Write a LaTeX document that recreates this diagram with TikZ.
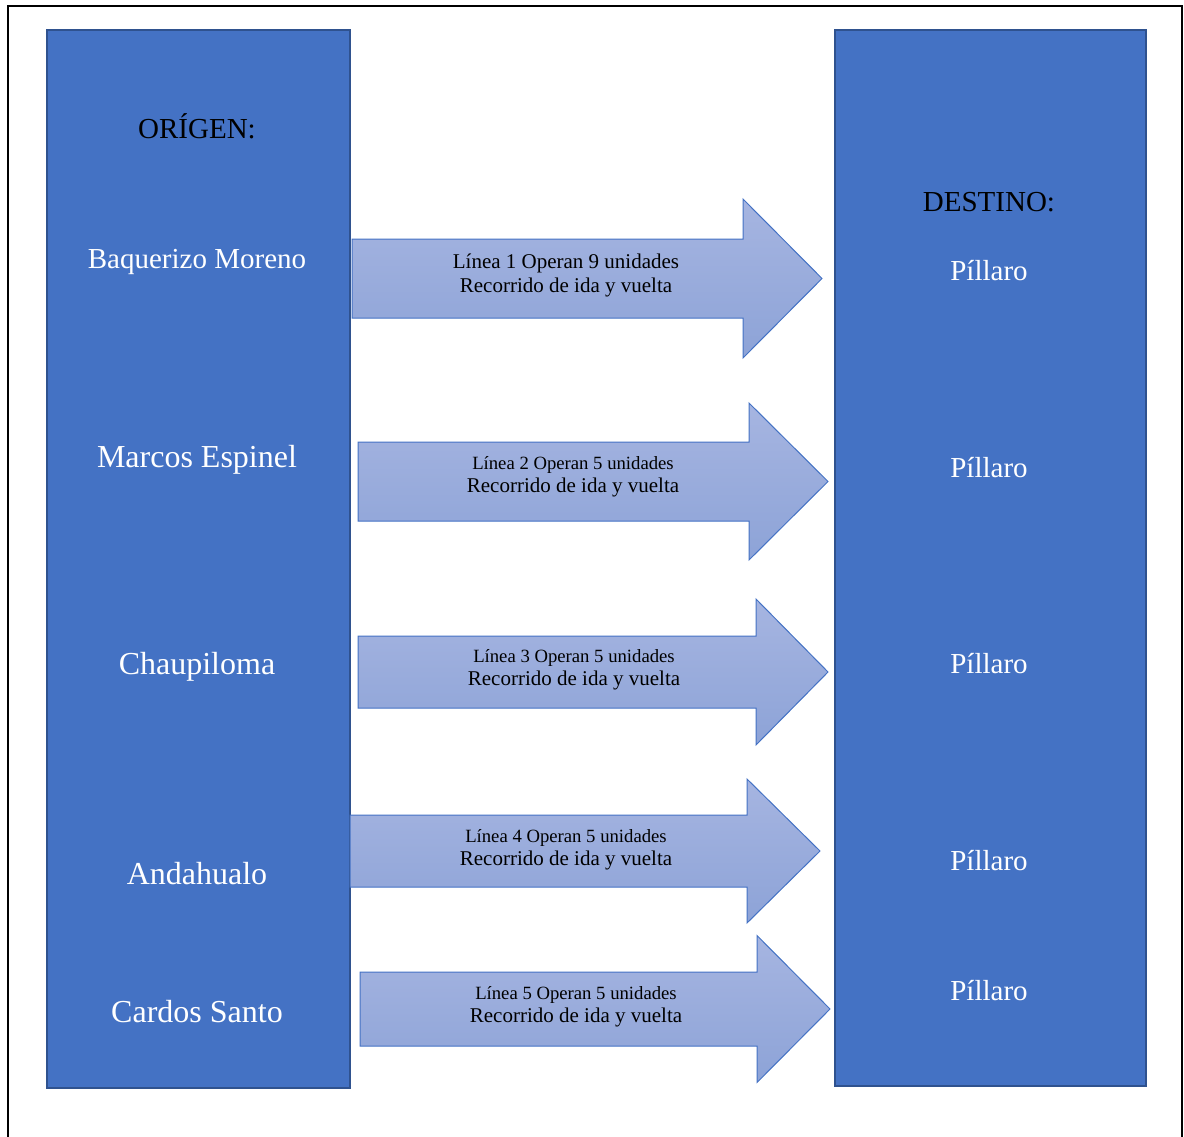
\documentclass[tikz,border=0pt]{standalone}
\usepackage{fontspec}
\setmainfont{Liberation Serif}
\usetikzlibrary{positioning}

\definecolor{boxblue}{HTML}{4472C4}
\definecolor{boxedge}{HTML}{2F528F}
\definecolor{arrtop}{HTML}{A6B5E1}
\definecolor{arrbot}{HTML}{8DA3D7}

\begin{document}
\begin{tikzpicture}[x=1pt,y=-1pt,
 column/.style={draw=boxedge,line width=2pt,fill=boxblue},
 place/.style={text=white,font=\fontsize{32}{36}\selectfont},
 head/.style={text=black,font=\fontsize{29}{34}\selectfont},
 blockarrow/.style={draw=boxblue,line width=1pt,top color=arrtop,bottom color=arrbot},
 info/.style={align=center,text=black,inner sep=0pt}]

 \useasboundingbox (0,0) rectangle (1184,1137);
 \draw[line width=2.5pt] (8,1140) -- (8,6) -- (1182,6) -- (1182,1140);

 % columns
 \node[column,minimum width=303pt,minimum height=1058pt,anchor=north west,inner sep=0pt] (origen) at (46,29) {};
 \node[column,minimum width=311pt,minimum height=1056pt,anchor=north west,inner sep=0pt] (destino) at (834,29) {};

 \node[head] (ohead) at (197,126) {ORÍGEN:};
 \node[head] (dhead) at (989,202) {DESTINO:};

 \node[place,font=\fontsize{29}{34}\selectfont] (o262) at (197,262) {Baquerizo Moreno};
 \foreach \name/\y in {Marcos Espinel/460, Chaupiloma/667, Andahualo/874, Cardos Santo/1012}
  \node[place] (o\y) at (197,\y) {\name};
 \foreach \y in {271, 468, 664, 861, 991}
  \node[place,font=\fontsize{29}{34}\selectfont] (d\y) at (989,\y) {Píllaro};

 % arrows: left/neck/tip/centre/half shaft/half head/text x/text y/line no./first size/gap
 \foreach \a/\n/\t/\c/\s/\h/\tx/\ty/\k/\fs/\g in {352/743/822/278.5/39.5/79.5/566/275/1/21/4,
   358/749/828/481.5/39.5/78.5/573/477/2/18.7/3, 358/756/828/672/36/73/574/670/3/18.7/3,
   350/747/820/851/36/72/566/850/4/18.7/3, 360/757/830/1009/37/73.5/576/1007/5/18.7/3} {
  \path[blockarrow] (\a,\c-\s) -- (\n,\c-\s) -- (\n,\c-\h) -- (\t,\c)
    -- (\n,\c+\h) -- (\n,\c+\s) -- (\a,\c+\s) -- cycle;
  \node[info] (l\k) at (\tx,\ty) {{\fontsize{\fs}{24}\selectfont Línea \k{} Operan \ifnum\k=1 9\else 5\fi{} unidades}\\[\g pt]
    {\fontsize{21}{24}\selectfont Recorrido de ida y vuelta}};
 }
\end{tikzpicture}
\end{document}
